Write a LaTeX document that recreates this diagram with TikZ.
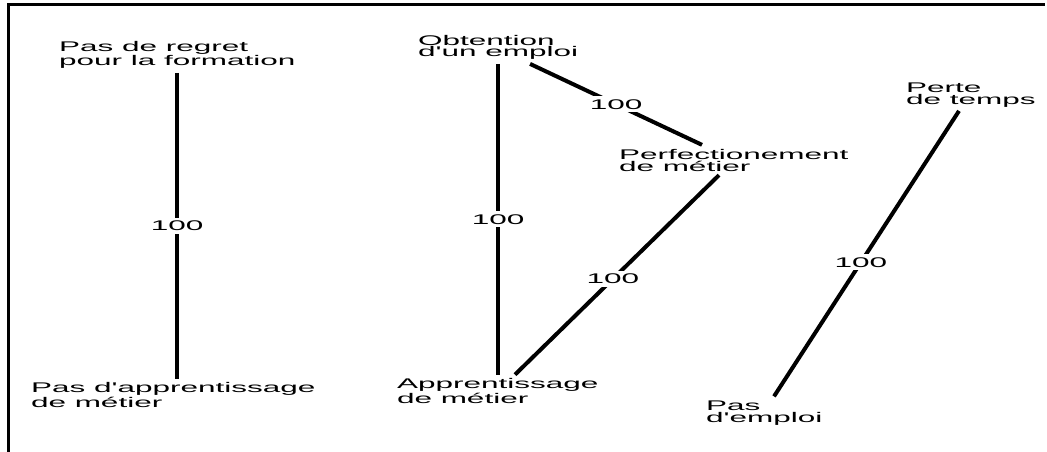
\documentclass[tikz,border=0pt]{standalone}
\usepackage{fontspec}
\newfontfamily\widefont[FakeStretch=2.25]{Liberation Sans}

\begin{document}
\begin{tikzpicture}[x=1pt, y=-1pt,
  stage/.style={font=\widefont\fontsize{14}{12}\selectfont, align=left,
                inner sep=0pt, outer sep=4pt, anchor=base west},
  link/.style={line width=4pt},
  weight/.style={font=\widefont\fontsize{14}{14}\selectfont, fill=white, inner sep=3pt},
]
\useasboundingbox (0,0) rectangle (1047,452);
\draw[line width=3pt] (8,452) -- (8,5) -- (1045,5);

\node[stage] (regret)  at (55,66)   {Pas de regret\\pour la formation};
\node[stage] (nolearn) at (27,407)  {Pas d'apprentissage\\de métier};

\node[stage] (job)     at (414,57)  {Obtention\\d'un emploi};
\node[stage] (improve) at (615,171) {Perfectionement\\de métier};
\node[stage] (learn)   at (393,403) {Apprentissage\\de métier};

\node[stage] (waste)   at (902,104) {Perte\\de temps};
\node[stage] (nojob)   at (702,422) {Pas\\d'emploi};

% connectors
\draw[link] (regret.south) -- (regret.south |- nolearn.north)
  node[weight, pos=0.5] {100};
\draw[link] (job.south) -- (job.south |- learn.north)
  node[weight, pos=0.5] {100};
\draw[link] ([xshift=32pt]job.south) -- ([xshift=87pt]improve.north west)
  node[weight, pos=0.5] {100};
\draw[link] ([xshift=104pt]improve.south west) -- ([xshift=122pt]learn.north west)
  node[weight, pos=0.52] {100};
\draw[link] ([xshift=57pt]waste.south west) -- ([xshift=72pt]nojob.north west)
  node[weight, pos=0.53] {100};
\end{tikzpicture}
\end{document}
